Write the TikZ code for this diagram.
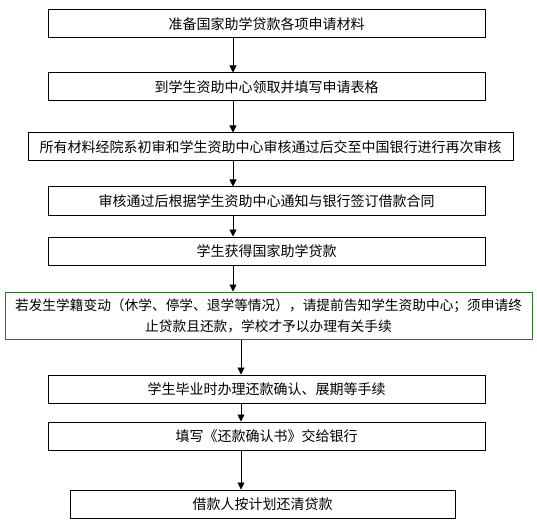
\documentclass[tikz,border=0pt]{standalone}
\usepackage{fontspec}
\setmainfont{Noto Sans CJK SC}
\usetikzlibrary{arrows.meta}
\definecolor{boxgreen}{RGB}{45,120,40}
\begin{document}
\begin{tikzpicture}[x=1pt,y=-1pt,
  flowbox/.style={draw=black,line width=1pt,rectangle,minimum height=28pt,inner sep=0pt,
    font=\fontsize{14}{21}\selectfont,align=center},
  greenbox/.style={flowbox,draw=boxgreen,minimum height=47pt,font=\fontsize{13.7}{21}\selectfont},
  flowarrow/.style={line width=0.9pt,-{Triangle[width=7pt,length=7pt]}}]
\useasboundingbox (0,0) rectangle (537,529);
\fill[white] (0,0) rectangle (537,529);
\node[flowbox,minimum width=437pt] (b1) at (266.5,24) {准备国家助学贷款各项申请材料};
\node[flowbox,minimum width=437pt] (b2) at (266.5,87) {到学生资助中心领取并填写申请表格};
\node[flowbox,minimum width=485pt] (b3) at (270.5,147) {所有材料经院系初审和学生资助中心审核通过后交至中国银行进行再次审核};
\node[flowbox,minimum width=437pt] (b4) at (266.5,201) {审核通过后根据学生资助中心通知与银行签订借款合同};
\node[flowbox,minimum width=437pt] (b5) at (266.5,251) {学生获得国家助学贷款};
\node[greenbox,minimum width=527pt] (g) at (268.5,315.5) {若发生学籍变动（休学、停学、退学等情况），请提前告知学生资助中心；须申请终\\止贷款且还款，学校才予以办理有关手续};
\node[flowbox,minimum width=437pt] (b6) at (266.5,389) {学生毕业时办理还款确认、展期等手续};
\node[flowbox,minimum width=437pt] (b7) at (266.5,436) {填写《还款确认书》交给银行};
\node[flowbox,minimum width=385pt] (b8) at (262.5,504) {借款人按计划还清贷款};
\coordinate (upx) at (233,0);
\coordinate (lowx) at (241,0);
\draw[flowarrow] (b1.south -| upx) -- (b2.north -| upx);
\draw[flowarrow] (b2.south -| upx) -- (b3.north -| upx);
\draw[flowarrow] (b3.south -| upx) -- (b4.north -| upx);
\draw[flowarrow] (b4.south -| upx) -- (b5.north -| upx);
\draw[flowarrow] (b5.south -| upx) -- (g.north -| upx);
\draw[flowarrow] (g.south -| lowx) -- (b6.north -| lowx);
\draw[flowarrow] (b6.south -| lowx) -- (b7.north -| lowx);
\draw[flowarrow] (b7.south -| lowx) -- (b8.north -| lowx);
\end{tikzpicture}
\end{document}
